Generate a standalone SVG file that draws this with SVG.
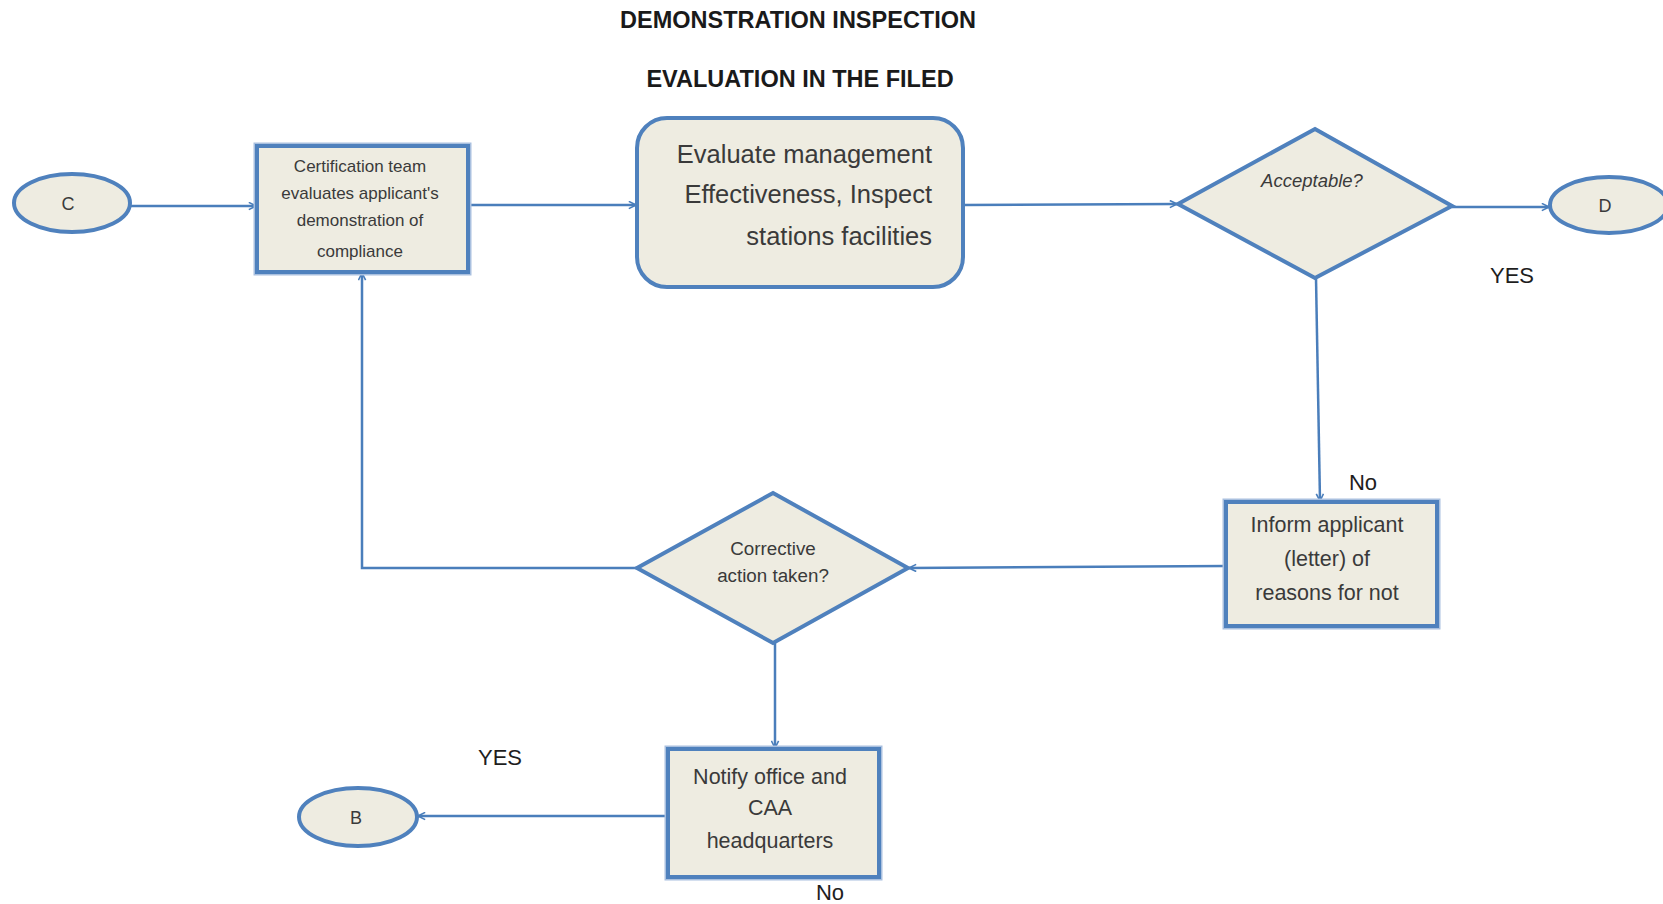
<svg xmlns="http://www.w3.org/2000/svg" width="1663" height="904" viewBox="0 0 1663 904">
<defs>
<style>
.node{fill:#EEECE1;stroke:#4F81BD;stroke-width:4}
.halo{fill:none;stroke:#A9C0DF;stroke-width:7}
.conn{fill:none;stroke:#4A7EBB;stroke-width:2.5}
.t{font-family:"Liberation Sans",Arial,sans-serif;fill:#3A3A3A}
.title{font-family:"Liberation Sans",Arial,sans-serif;font-weight:bold;font-size:23.5px;fill:#1A1A1A;text-anchor:middle}
.lbl{font-family:"Liberation Sans",Arial,sans-serif;font-size:22px;fill:#1E1E1E;text-anchor:middle}
</style>
<marker id="arr" viewBox="0 0 10 10" refX="9" refY="5" markerWidth="9" markerHeight="9" orient="auto" markerUnits="userSpaceOnUse">
<path d="M1,1 L9,5 L1,9" fill="none" stroke="#4A7EBB" stroke-width="1.8"/>
</marker>
</defs>
<rect width="1663" height="904" fill="#FFFFFF"/>
<text class="title" x="798" y="28">DEMONSTRATION INSPECTION</text>
<text class="title" x="800" y="87">EVALUATION IN THE FILED</text>

<g id="connectors">
<path class="conn" d="M130,206 L256,206" marker-end="url(#arr)" stroke="#7FA2D0" stroke-width="3.5"/>
<path class="conn" d="M468,205 L636,205" marker-end="url(#arr)"/>
<path class="conn" d="M963,205 L1177,204" marker-end="url(#arr)"/>
<path class="conn" d="M1452,207 L1549,207" marker-end="url(#arr)"/>
<path class="conn" d="M1316,278 L1320,501" marker-end="url(#arr)"/>
<path class="conn" d="M1226,566 L909,568" marker-end="url(#arr)"/>
<path class="conn" d="M637,568 L362,568 L362,273" marker-end="url(#arr)"/>
<path class="conn" d="M775,643 L775,748" marker-end="url(#arr)"/>
<path class="conn" d="M668,816 L418,816" marker-end="url(#arr)" stroke="#7FA2D0" stroke-width="3"/>
</g>

<g id="nodeC">
<ellipse class="node" cx="72" cy="203" rx="58" ry="29"/>
<text class="t" x="68" y="210" font-size="18" text-anchor="middle">C</text>
</g>

<g id="box1">
<rect class="halo" x="257" y="146" width="211" height="126"/>
<rect class="node" x="257" y="146" width="211" height="126"/>
<g class="t" font-size="17" text-anchor="middle" fill="#555555">
<text x="360" y="172">Certification team</text>
<text x="360" y="199">evaluates applicant's</text>
<text x="360" y="226">demonstration of</text>
<text x="360" y="257">compliance</text>
</g>
</g>

<g id="evaluate">
<rect class="node" x="637" y="118" width="326" height="169" rx="30" ry="30"/>
<g class="t" font-size="25.5" text-anchor="end">
<text x="932" y="163">Evaluate management</text>
<text x="932" y="203">Effectiveness, Inspect</text>
<text x="932" y="245">stations facilities</text>
</g>
</g>

<g id="acceptable">
<polygon class="node" points="1315,129 1452,206 1315,278 1178,204"/>
<text class="t" x="1312" y="187" font-size="18.5" font-style="italic" text-anchor="middle">Acceptable?</text>
</g>

<g id="nodeD">
<ellipse class="node" cx="1609" cy="205" rx="59" ry="28"/>
<text class="t" x="1605" y="212" font-size="18" text-anchor="middle" fill="#666666">D</text>
</g>

<g id="inform">
<rect class="halo" x="1226" y="502" width="211" height="124"/>
<rect class="node" x="1226" y="502" width="211" height="124"/>
<g class="t" font-size="21.5" text-anchor="middle">
<text x="1327" y="532">Inform applicant</text>
<text x="1327" y="566">(letter) of</text>
<text x="1327" y="600">reasons for not</text>
</g>
</g>

<g id="corrective">
<polygon class="node" points="773,493 908,568 773,643 637,568"/>
<g class="t" font-size="18.8" text-anchor="middle">
<text x="773" y="555">Corrective</text>
<text x="773" y="582">action taken?</text>
</g>
</g>

<g id="notify">
<rect class="halo" x="668" y="749" width="211" height="128"/>
<rect class="node" x="668" y="749" width="211" height="128"/>
<g class="t" font-size="21.5" text-anchor="middle">
<text x="770" y="784">Notify office and</text>
<text x="770" y="815">CAA</text>
<text x="770" y="848">headquarters</text>
</g>
</g>

<g id="nodeB">
<ellipse class="node" cx="358" cy="817" rx="59" ry="29"/>
<text class="t" x="356" y="824" font-size="18" text-anchor="middle">B</text>
</g>

<g id="labels">
<text class="lbl" x="1512" y="283">YES</text>
<text class="lbl" x="1363" y="490">No</text>
<text class="lbl" x="500" y="765">YES</text>
<text class="lbl" x="830" y="900">No</text>
</g>
</svg>
